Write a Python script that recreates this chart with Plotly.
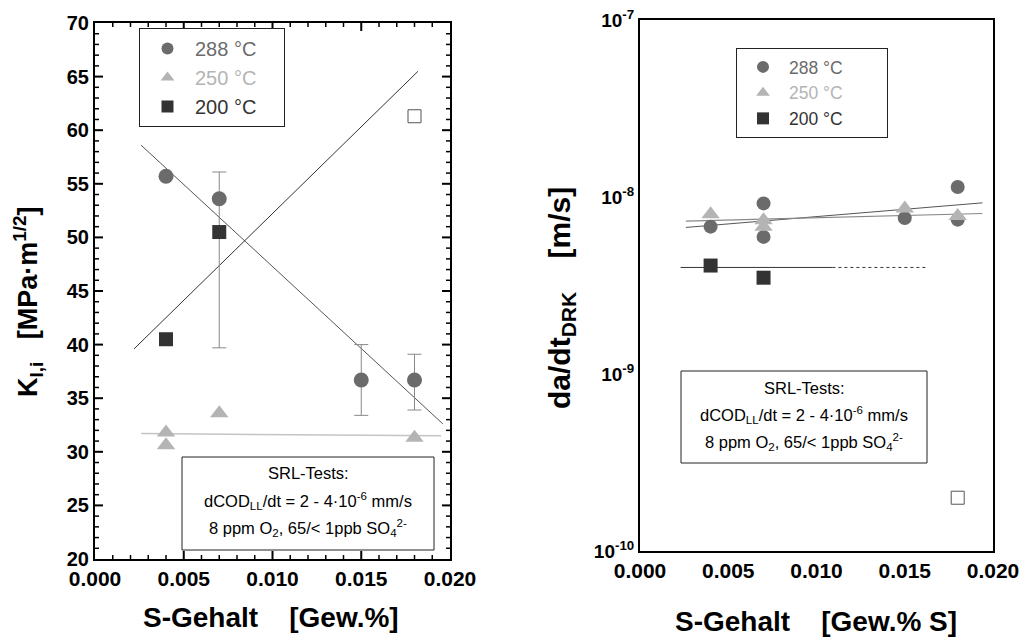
import math
import plotly.graph_objects as go

# ---------------- data: left panel (K_I,i) ----------------
s_288_L = [0.004, 0.007, 0.015, 0.018]
k_288 = [55.7, 53.6, 36.7, 36.7]
k_288_plus = [None, 2.5, 3.3, 2.4]
k_288_minus = [None, 13.9, 3.3, 2.8]
s_250_L = [0.004, 0.004, 0.007, 0.018]
k_250 = [31.8, 30.6, 33.6, 31.3]
s_200_L = [0.004, 0.007]
k_200 = [40.5, 50.5]
s_open_L = [0.018]
k_open = [61.3]
fit288_L_x = [0.0026, 0.0196]
fit288_L_y = [58.6, 32.6]
fit200_L_x = [0.0022, 0.0182]
fit200_L_y = [39.6, 65.5]
fit250_L_x = [0.0026, 0.0195]
fit250_L_y = [31.7, 31.5]

# ---------------- data: right panel (da/dt) ----------------
s_288_R = [0.004, 0.007, 0.007, 0.015, 0.018, 0.018]
v_288 = [6.8e-9, 9.2e-9, 5.95e-9, 7.6e-9, 1.14e-8, 7.45e-9]
s_250_R = [0.004, 0.007, 0.007, 0.015, 0.018]
v_250 = [8.0e-9, 7.4e-9, 6.8e-9, 8.6e-9, 7.8e-9]
s_200_R = [0.004, 0.007]
v_200 = [4.1e-9, 3.5e-9]
s_open_R = [0.018]
v_open = [2.0e-10]
fit288_R_x = [0.0026, 0.0194]
fit288_R_y = [6.73e-9, 9.27e-9]
fit250_R_x = [0.0026, 0.0194]
fit250_R_y = [7.31e-9, 8.07e-9]
fit200_R_x = [0.0023, 0.0109]
fit200_R_y = [4.0e-9, 4.0e-9]
fit200_R_dot_x = [0.0109, 0.0162]
fit200_R_dot_y = [4.0e-9, 4.0e-9]

# ---------------- tick labels ----------------
x_ticks = [0.0, 0.005, 0.010, 0.015, 0.020]
x_ticktext = ["<b>0.000</b>", "<b>0.005</b>", "<b>0.010</b>", "<b>0.015</b>", "<b>0.020</b>"]
x_minor = [0.001, 0.002, 0.003, 0.004, 0.006, 0.007, 0.008, 0.009,
           0.011, 0.012, 0.013, 0.014, 0.016, 0.017, 0.018, 0.019]
k_ticks = [20, 25, 30, 35, 40, 45, 50, 55, 60, 65, 70]
k_ticktext = ["<b>%d</b>" % v for v in k_ticks]
k_minor = [v for v in range(21, 70) if v % 5 != 0]
y_log_ticks = [1e-10, 1e-9, 1e-8, 1e-7]
y_log_ticktext = ["<b>10<sup>-10</sup></b>", "<b>10<sup>-9</sup></b>",
                  "<b>10<sup>-8</sup></b>", "<b>10<sup>-7</sup></b>"]
y_log_minor = [m * d for d in (1e-10, 1e-9, 1e-8) for m in range(2, 10)]

C288 = "#6b6b6b"
C250 = "#b4b4b4"
C200 = "#333333"
FONT = "Liberation Sans, Arial, sans-serif"

W, H = 1024, 641
def px(x):
    return x / W
def py(y):
    return 1 - y / H

fig = go.Figure()

# ---- left panel lines ----
fig.add_trace(go.Scatter(x=fit288_L_x, y=fit288_L_y, mode="lines", line=dict(color="#555555", width=1),
                         showlegend=False, xaxis="x", yaxis="y", hoverinfo="skip"))
fig.add_trace(go.Scatter(x=fit200_L_x, y=fit200_L_y, mode="lines", line=dict(color="#333333", width=1),
                         showlegend=False, xaxis="x", yaxis="y", hoverinfo="skip"))
fig.add_trace(go.Scatter(x=fit250_L_x, y=fit250_L_y, mode="lines", line=dict(color="#c4c4c4", width=1.5),
                         showlegend=False, xaxis="x", yaxis="y", hoverinfo="skip"))

# ---- left panel markers ----
fig.add_trace(go.Scatter(x=s_288_L, y=k_288, mode="markers",
                         marker=dict(symbol="circle", size=15, color=C288),
                         error_y=dict(type="data", array=k_288_plus, arrayminus=k_288_minus,
                                      symmetric=False, color="#888888", thickness=1, width=7),
                         name='<span style="color:%s">288 °C</span>' % C288 + "&nbsp;" * 4,
                         legend="legend", xaxis="x", yaxis="y"))
fig.add_trace(go.Scatter(x=s_250_L, y=k_250, mode="markers",
                         marker=dict(symbol="triangle-up", size=16, color=C250),
                         name='<span style="color:%s">250 °C</span>' % C250,
                         legend="legend", xaxis="x", yaxis="y"))
fig.add_trace(go.Scatter(x=s_200_L, y=k_200, mode="markers",
                         marker=dict(symbol="square", size=14, color=C200),
                         name='<span style="color:%s">200 °C</span>' % C200,
                         legend="legend", xaxis="x", yaxis="y"))
fig.add_trace(go.Scatter(x=s_open_L, y=k_open, mode="markers",
                         marker=dict(symbol="square-open", size=13, color="#555555", line=dict(width=1)),
                         showlegend=False, xaxis="x", yaxis="y"))

# ---- right panel lines ----
fig.add_trace(go.Scatter(x=fit288_R_x, y=fit288_R_y, mode="lines", line=dict(color="#555555", width=1),
                         showlegend=False, xaxis="x2", yaxis="y2", hoverinfo="skip"))
fig.add_trace(go.Scatter(x=fit250_R_x, y=fit250_R_y, mode="lines", line=dict(color="#888888", width=1.2),
                         showlegend=False, xaxis="x2", yaxis="y2", hoverinfo="skip"))
fig.add_trace(go.Scatter(x=fit200_R_x, y=fit200_R_y, mode="lines", line=dict(color="#333333", width=1),
                         showlegend=False, xaxis="x2", yaxis="y2", hoverinfo="skip"))
fig.add_trace(go.Scatter(x=fit200_R_dot_x, y=fit200_R_dot_y, mode="lines",
                         line=dict(color="#333333", width=1, dash="dot"),
                         showlegend=False, xaxis="x2", yaxis="y2", hoverinfo="skip"))

# ---- right panel markers ----
fig.add_trace(go.Scatter(x=s_288_R, y=v_288, mode="markers",
                         marker=dict(symbol="circle", size=14, color=C288),
                         name='<span style="color:%s">288 °C</span>' % C288 + "&nbsp;" * 8,
                         legend="legend2", xaxis="x2", yaxis="y2"))
fig.add_trace(go.Scatter(x=s_250_R, y=v_250, mode="markers",
                         marker=dict(symbol="triangle-up", size=16, color=C250),
                         name='<span style="color:%s">250 °C</span>' % C250,
                         legend="legend2", xaxis="x2", yaxis="y2"))
fig.add_trace(go.Scatter(x=s_200_R, y=v_200, mode="markers",
                         marker=dict(symbol="square", size=14, color=C200),
                         name='<span style="color:%s">200 °C</span>' % C200,
                         legend="legend2", xaxis="x2", yaxis="y2"))
fig.add_trace(go.Scatter(x=s_open_R, y=v_open, mode="markers",
                         marker=dict(symbol="square-open", size=13, color="#555555", line=dict(width=1)),
                         showlegend=False, xaxis="x2", yaxis="y2"))

def lin_axis(domain, anchor, rng, fsize, **kw):
    return dict(domain=domain, anchor=anchor, range=rng, showline=True, linecolor="black", linewidth=2,
                mirror=True, ticks="", showgrid=False, zeroline=False, layer="above traces",
                tickfont=dict(family=FONT, size=fsize, color="black"), **kw)

L_x0, L_x1, L_y0, L_y1 = 95, 450, 23, 559
R_x0, R_x1, R_y0, R_y1 = 640, 993, 20, 551

fig.update_layout(
    width=W, height=H, margin=dict(l=0, r=0, t=0, b=0, pad=0, autoexpand=False),
    paper_bgcolor="white", plot_bgcolor="rgba(0,0,0,0)",
    font=dict(family=FONT, color="black"),
    xaxis=lin_axis([px(L_x0), px(L_x1)], "y", [0, 0.02], 21,
                   tickmode="array", tickvals=x_ticks, ticktext=x_ticktext),
    yaxis=lin_axis([py(L_y1), py(L_y0)], "x", [20, 70], 20,
                   tickmode="array", tickvals=k_ticks, ticktext=k_ticktext),
    xaxis2=lin_axis([px(R_x0), px(R_x1)], "y2", [0, 0.02], 21,
                    tickmode="array", tickvals=x_ticks, ticktext=x_ticktext),
    yaxis2=dict(domain=[py(R_y1), py(R_y0)], anchor="x2", type="log", range=[-10, -7],
                showline=True, linecolor="black", linewidth=2, mirror=True, ticks="",
                layer="above traces", showgrid=False, zeroline=False, tickmode="array",
                tickvals=y_log_ticks, ticktext=y_log_ticktext,
                tickfont=dict(family=FONT, size=19, color="black")),
    legend=dict(x=px(139), y=py(28), xanchor="left", yanchor="top", bgcolor="white",
                bordercolor="#222222", borderwidth=1, itemwidth=45, itemsizing="constant",
                font=dict(family=FONT, size=20), traceorder="normal"),
    legend2=dict(x=px(736), y=py(48), xanchor="left", yanchor="top", bgcolor="white",
                 bordercolor="#222222", borderwidth=1, itemwidth=42, itemsizing="constant",
                 font=dict(family=FONT, size=17.5), traceorder="normal"),
    showlegend=True,
)

# ---- tick marks (inside, on all four sides) placed through the axes' own scales ----
shapes = []

def xtick(xref, yref, xv, y_lo, y_hi, length, width):
    shapes.append(dict(type="line", xref=xref, yref=yref, x0=xv, x1=xv, ysizemode="pixel",
                       yanchor=y_lo, y0=0, y1=length, line=dict(color="black", width=width), layer="above"))
    shapes.append(dict(type="line", xref=xref, yref=yref, x0=xv, x1=xv, ysizemode="pixel",
                       yanchor=y_hi, y0=0, y1=-length, line=dict(color="black", width=width), layer="above"))

def ytick(xref, yref, yv, x_lo, x_hi, length, width):
    shapes.append(dict(type="line", xref=xref, yref=yref, y0=yv, y1=yv, xsizemode="pixel",
                       xanchor=x_lo, x0=0, x1=length, line=dict(color="black", width=width), layer="above"))
    shapes.append(dict(type="line", xref=xref, yref=yref, y0=yv, y1=yv, xsizemode="pixel",
                       xanchor=x_hi, x0=0, x1=-length, line=dict(color="black", width=width), layer="above"))

for xv in x_ticks[1:-1]:
    xtick("x", "y", xv, 20, 70, 8, 2)
    xtick("x2", "y2", xv, -10, -7, 13, 2)
for xv in x_minor:
    xtick("x", "y", xv, 20, 70, 4, 1.5)
    xtick("x2", "y2", xv, -10, -7, 7, 1.5)
for yv in k_ticks[1:-1]:
    ytick("x", "y", yv, 0, 0.02, 8, 2)
for yv in k_minor:
    ytick("x", "y", yv, 0, 0.02, 4, 1.5)
for yv in y_log_ticks[1:-1]:
    ytick("x2", "y2", math.log10(yv), 0, 0.02, 13, 2)
for yv in y_log_minor:
    ytick("x2", "y2", math.log10(yv), 0, 0.02, 7, 1.5)

annos = [
    dict(x=px(28), y=py(302), text="<b>K<sub>I,i</sub>&nbsp;&nbsp;&nbsp;[MPa·m<sup>1/2</sup>]</b>", textangle=-90,
         font=dict(family=FONT, size=27, color="black")),
    dict(x=px(561), y=py(298), text="<b>da/dt<sub>DRK</sub>&nbsp;&nbsp;&nbsp;&nbsp;[m/s]</b>", textangle=-90,
         font=dict(family=FONT, size=30, color="black")),
    dict(x=px(271), y=py(617), text="<b>S-Gehalt&nbsp;&nbsp;&nbsp;&nbsp;[Gew.%]</b>",
         font=dict(family=FONT, size=28, color="black")),
    dict(x=px(816), y=py(621), text="<b>S-Gehalt&nbsp;&nbsp;&nbsp;&nbsp;[Gew.% S]</b>",
         font=dict(family=FONT, size=28, color="black")),
]

box_font = dict(family=FONT, size=16.5, color="black")
box_lines = ["SRL-Tests:",
             "dCOD<sub>LL</sub>/dt = 2 - 4·10<sup>-6</sup> mm/s",
             "8 ppm O<sub>2</sub>, 65/&lt; 1ppb SO<sub>4</sub><sup>2-</sup>"]
for (bx0, by0, bx1, by1, ys) in [(182, 457, 434, 550, [473, 501, 528]),
                                 (681, 371, 927, 463, [388, 415, 442])]:
    shapes.append(dict(type="rect", xref="paper", yref="paper", x0=px(bx0), x1=px(bx1),
                       y0=py(by1), y1=py(by0), line=dict(color="#222222", width=1), fillcolor="white",
                       layer="above"))
    for t, yy in zip(box_lines, ys):
        annos.append(dict(x=px((bx0 + bx1) / 2), y=py(yy), text=t, font=box_font))

for a in annos:
    a.update(xref="paper", yref="paper", showarrow=False, xanchor="center", yanchor="middle")

fig.update_layout(annotations=annos, shapes=shapes)

fig.write_html("out.html")
